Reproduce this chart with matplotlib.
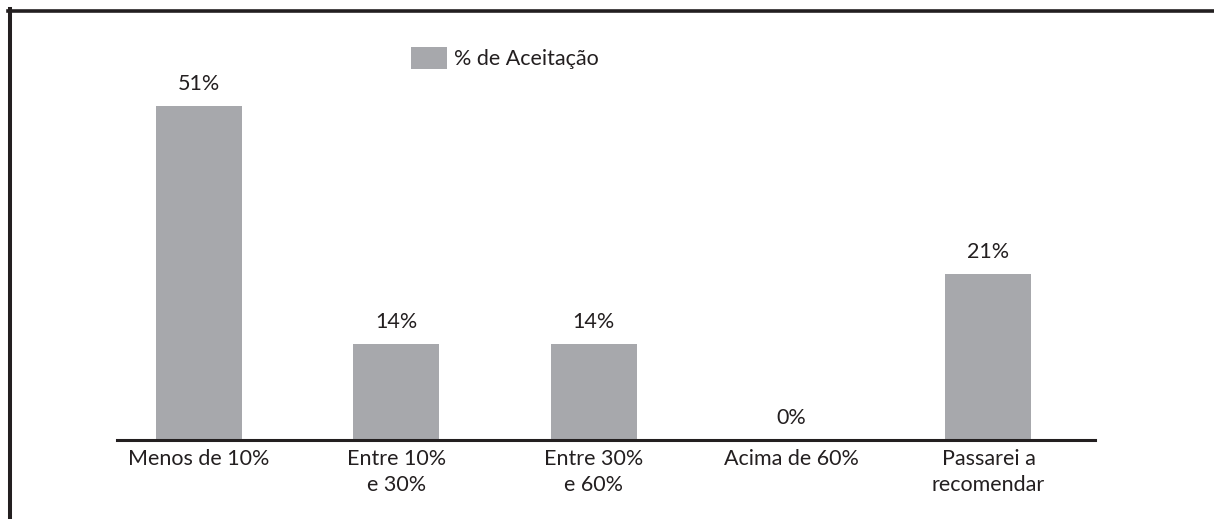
import matplotlib
matplotlib.use('Agg')
import matplotlib.pyplot as plt
from matplotlib.lines import Line2D

# dados do gráfico
categorias = ['Menos de 10%', 'Entre 10%\ne 30%', 'Entre 30%\ne 60%',
              'Acima de 60%', 'Passarei a\nrecomendar']
rotulos = ['51%', '14%', '14%', '0%', '21%']
alturas = [51, 14.7, 14.7, 0, 25.4]  # altura das barras

plt.rcParams['font.family'] = ['Lato', 'DejaVu Sans']
cor_texto = '#231f20'
cor_barra = '#a7a8ac'
tam = 15.5

W, H = 1214, 519
fig = plt.figure(figsize=(W / 100, H / 100), dpi=100)
ax = fig.add_axes([117 / W, 1 - 440 / H, (1095 - 117) / W, (440 - 20) / H])

x = list(range(len(categorias)))
ax.bar(x, alturas, width=0.436, color=cor_barra, label='% de Aceitação', zorder=2)

for i, h in enumerate(alturas):
    ax.annotate(rotulos[i], (i, h), xytext=(0, 11.5), textcoords='offset points',
                ha='center', va='baseline', fontsize=tam, color=cor_texto)

ax.set_xlim(-0.416, 4.54)
ax.set_ylim(0, 420 / 6.54)
ax.set_xticks(x)
ax.set_xticklabels(categorias, fontsize=tam, color=cor_texto, linespacing=1.35)
ax.tick_params(axis='x', length=0, pad=6.5)
ax.set_yticks([])
for s in ['top', 'right', 'left']:
    ax.spines[s].set_visible(False)
ax.spines['bottom'].set_linewidth(2.2)
ax.spines['bottom'].set_color(cor_texto)
ax.spines['bottom'].set_zorder(3)

ax.legend(loc='center left', bbox_to_anchor=(411 / W, 1 - 58 / H),
          bbox_transform=fig.transFigure, frameon=False, fontsize=tam,
          borderpad=0, borderaxespad=0, handlelength=1.65, handleheight=1.24,
          handletextpad=0.37, labelcolor=cor_texto)

# moldura
fig.add_artist(Line2D([7.5 / W, 1], [1 - 10.5 / H, 1 - 10.5 / H], color=cor_texto,
                      lw=2.6, transform=fig.transFigure))
fig.add_artist(Line2D([9.5 / W, 9.5 / W], [0, 1 - 9 / H], color=cor_texto,
                      lw=2.9, transform=fig.transFigure))

fig.savefig('out.png', dpi=100)
